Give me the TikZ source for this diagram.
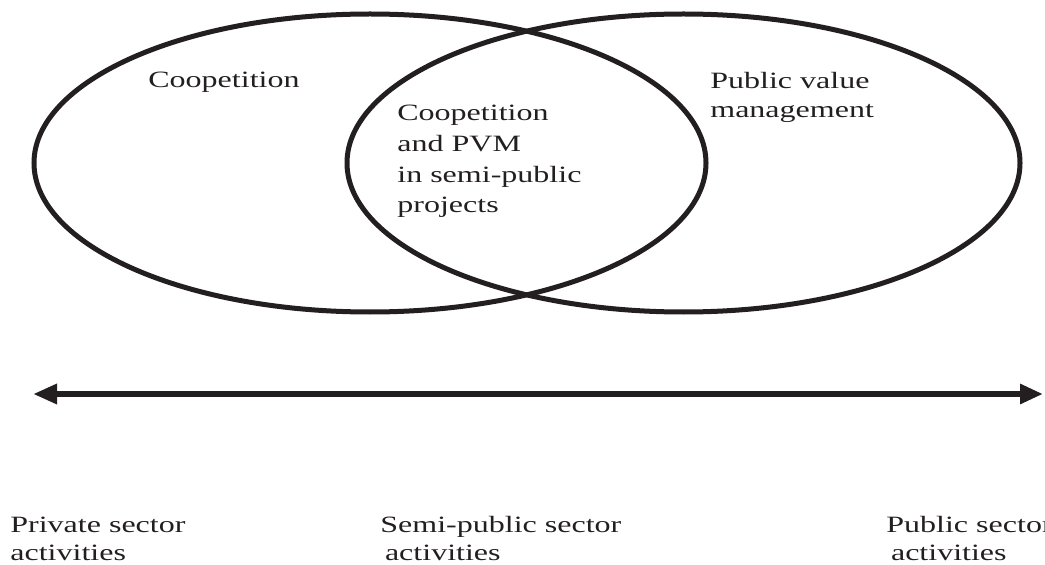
\documentclass[tikz,border=0pt]{standalone}
\usepackage{fontspec}
\setmainfont{Liberation Serif}[FakeStretch=1.37]
\usetikzlibrary{arrows.meta}
\definecolor{ink}{HTML}{231F20}
\tikzstyle{ring} = [draw=ink, line width=0.1cm]
\tikzstyle{lbl} = [inner sep=0pt, anchor=base west, align=left, text=ink]
\newcommand{\lblfont}[1]{\fontsize{13.3}{#1}\selectfont}

\begin{document}
\begin{tikzpicture}
			\useasboundingbox (0,0) rectangle (20.9,11.28);
			% the two overlapping fields
			\draw[ring] (7.40,8.02) ellipse (6.72 and 2.98);
			\draw[ring] (13.67,8.02) ellipse (6.73 and 2.98);
			\node[lbl, font=\lblfont{17}] (coop) at (2.96,9.52) {Coopetition};
			\node[lbl, font=\lblfont{17.6}] (both) at (7.94,7.02) {Coopetition\\and PVM\\in semi-public\\projects};
			\node[lbl, font=\lblfont{17}] (pvm) at (14.20,8.92) {Public value\\management};
			% private -- public axis
			\coordinate (privend) at (0.66,3.40);
			\coordinate (pubend) at (20.86,3.40);
			\draw[draw=ink, line width=0.12cm, {Triangle[length=0.48cm,width=0.38cm]}-{Triangle[length=0.46cm,width=0.38cm]}] (privend) -- (pubend);
			\node[lbl, font=\lblfont{15.4}] (privlbl) at (0.20,0.08) {Private sector\\activities};
			\node[lbl, font=\lblfont{15.4}] (semilbl) at (7.60,0.08) {Semi-public sector\\\hspace{0.2em}activities};
			\node[lbl, font=\lblfont{15.4}] (publbl) at (17.72,0.08) {Public sector\\\hspace{0.2em}activities};
		\end{tikzpicture}
\end{document}
